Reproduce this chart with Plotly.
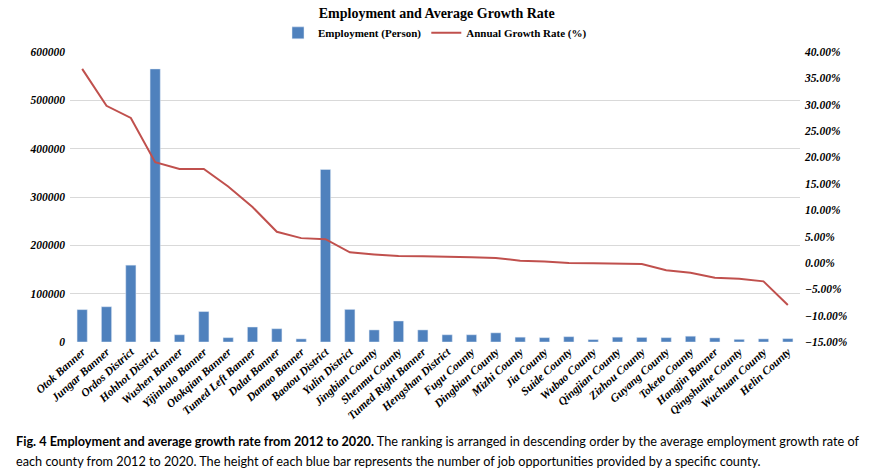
import plotly.graph_objects as go

counties = ["Otok Banner", "Jungar Banner", "Ordos District", "Hohhot District", "Wushen Banner",
            "Yijinholo Banner", "Otokqian Banner", "Tumed Left Banner", "Dalat Banner", "Damao Banner",
            "Baotou District", "Yulin District", "Jingbian County", "Shenmu County", "Tumed Right Banner",
            "Hengshan District", "Fugu County", "Dingbian County", "Mizhi County", "Jia County",
            "Suide County", "Wubao County", "Qingjian County", "Zizhou County", "Guyang County",
            "Toketo County", "Hangjin Banner", "Qingshuihe County", "Wuchuan County", "Helin County"]

employment = [67000, 73000, 159000, 565000, 15000,
              63000, 9000, 31000, 27500, 6500,
              357000, 67500, 25000, 43500, 25000,
              15000, 15000, 19000, 10000, 9000,
              11000, 5000, 10000, 9500, 9000,
              12000, 8500, 5500, 6500, 7000]

growth_rate = [0.368, 0.298, 0.275, 0.191, 0.178,
               0.178, 0.145, 0.106, 0.059, 0.047,
               0.045, 0.020, 0.016, 0.013, 0.0125,
               0.011, 0.0105, 0.0095, 0.004, 0.0025,
               0.000, -0.0005, -0.001, -0.002, -0.014,
               -0.0185, -0.028, -0.030, -0.035, -0.080]

serif = "Liberation Serif"

fig = go.Figure()
fig.add_trace(go.Bar(x=counties, y=employment, name="Employment (Person)",
                     marker_color="#4F81BD", yaxis="y"))
fig.add_trace(go.Scatter(x=counties, y=growth_rate, name="Annual Growth Rate (%)",
                         mode="lines", line=dict(color="#C0504D", width=2), yaxis="y2"))

tickfont = dict(family=serif, size=11.5, color="#000000", weight="bold", style="italic")

fig.update_layout(
    width=870, height=476,
    margin=dict(l=70, r=70, t=52, b=134),
    paper_bgcolor="white", plot_bgcolor="white",
    title=dict(text="<b>Employment and Average Growth Rate</b>", x=0.502, xanchor="center",
               y=1 - 13 / 476, yanchor="middle",
               font=dict(family=serif, size=14, color="#000000")),
    legend=dict(orientation="h", x=0.50, xanchor="center", y=1.066, yanchor="middle",
                font=dict(family=serif, size=11, color="#000000", weight="bold"),
                bgcolor="rgba(0,0,0,0)", itemwidth=30, tracegroupgap=0),
    bargap=0.58,
    xaxis=dict(tickangle=-42, tickfont=tickfont, showgrid=False, showline=False,
               ticks="", automargin=False),
    yaxis=dict(range=[0, 600000], dtick=100000, tickformat="d", tickfont=tickfont,
               showgrid=True, gridcolor="#D9D9D9", gridwidth=1, zeroline=False,
               showline=False, ticks="", automargin=False, ticklabelstandoff=4),
    yaxis2=dict(range=[-0.15, 0.40], dtick=0.05, tickformat=".2%", tickfont=tickfont,
                overlaying="y", side="right", showgrid=False, zeroline=False,
                showline=False, ticks="", automargin=False, ticklabelstandoff=4),
    showlegend=True,
)

cap_font = dict(family="Lato", size=12.7, color="#000000")
fig.add_annotation(xref="paper", yref="paper", x=-56 / 730, y=-(441 - 342) / 290,
                   xanchor="left", yanchor="middle", showarrow=False, align="left",
                   text="<b>Fig. 4 Employment and average growth rate from 2012 to 2020.</b> "
                        "The ranking is arranged in descending order by the average employment growth rate of",
                   font=cap_font)
fig.add_annotation(xref="paper", yref="paper", x=-56 / 730, y=-(461 - 342) / 290,
                   xanchor="left", yanchor="middle", showarrow=False, align="left",
                   text="each county from 2012 to 2020. The height of each blue bar represents "
                        "the number of job opportunities provided by a specific county.",
                   font=cap_font)

fig.write_html("out.html", config={"displayModeBar": False},
               post_script="document.body.style.margin='0';document.body.style.overflow='hidden';")
